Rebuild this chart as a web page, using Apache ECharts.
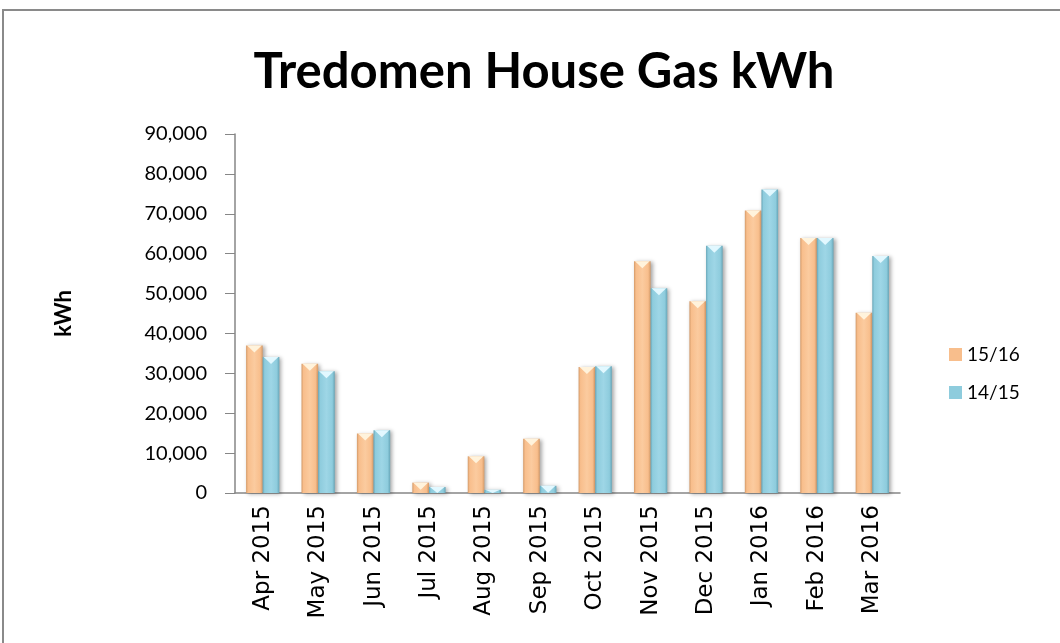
<!DOCTYPE html>
<html>
<head>
<meta charset="utf-8">
<script src="https://cdn.jsdelivr.net/npm/echarts@6/dist/echarts.min.js"></script>
<style>html,body{margin:0;padding:0;background:#fff;}#c{width:1060px;height:643px;}</style>
</head>
<body>
<div id="c"></div>
<script>
const categories = ['Apr 2015','May 2015','Jun 2015','Jul 2015','Aug 2015','Sep 2015','Oct 2015','Nov 2015','Dec 2015','Jan 2016','Feb 2016','Mar 2016'];
const seriesNames = ['15/16','14/15'];
const values1516 = [37000, 32400, 14900, 2600, 9200, 13600, 31600, 58100, 48100, 70800, 63900, 45200];
const values1415 = [34100, 30500, 15700, 1500, 800, 1800, 31800, 51300, 62000, 76100, 63900, 59400];
const yTicks = [0, 10000, 20000, 30000, 40000, 50000, 60000, 70000, 80000, 90000];

const palettes = [
  {base:'#F8BE8C', dark:'#D49A68', light:'#FBCB9F', tri:'#FFF3DC'},
  {base:'#8ECCDD', dark:'#67A6B8', light:'#9ED6E6', tri:'#E2F8FF'}
];
const FONT = 'Lato';

function makeRender(idx){
  const p = palettes[idx];
  return function(params, api){
    const cat = api.value(0), val = api.value(1);
    const base = api.coord([cat, 0]);
    const top = api.coord([cat, val]);
    const band = api.size([1, 0])[0];
    const bw = band * 0.30;
    const x = base[0] + (idx === 0 ? -bw : 0);
    const h = base[1] - top[1];
    const th = Math.min(7, h);
    const grad = new echarts.graphic.LinearGradient(0, 0, 1, 0, [
      {offset:0, color:p.dark},
      {offset:0.12, color:p.base},
      {offset:0.5, color:p.light},
      {offset:0.85, color:p.base},
      {offset:1, color:p.dark}
    ]);
    return {
      type:'group',
      children:[
        {type:'rect', shape:{x:x, y:top[1], width:bw, height:h},
         style:{fill:grad, shadowBlur:4, shadowOffsetX:2, shadowOffsetY:1, shadowColor:'rgba(0,0,0,0.35)'}},
        {type:'polygon', shape:{points:[[x+1, top[1]], [x+bw-1, top[1]], [x+bw/2, top[1]+th]]},
         style:{fill:p.tri}}
      ]
    };
  };
}

const chart = echarts.init(document.getElementById('c'), null, {renderer:'canvas'});
chart.setOption({
  animation:false,
  backgroundColor:'#ffffff',
  graphic:[{type:'rect', shape:{x:3, y:10, width:1200, height:800}, style:{fill:'none', stroke:'#8a8a8a', lineWidth:2}, silent:true}],
  title:{
    text:'Tredomen House Gas kWh',
    left:539, top:43, textAlign:'center',
    textStyle:{fontFamily:FONT, fontWeight:'bold', fontSize:49, color:'#000'}
  },
  legend:{
    orient:'vertical', left:944, top:340, itemWidth:13, itemHeight:13, itemGap:19,
    icon:'rect',
    data:seriesNames,
    textStyle:{fontFamily:FONT, fontSize:19, color:'#000'}
  },
  grid:{left:235, right:160, top:134, bottom:150},
  xAxis:{
    type:'category', data:categories,
    axisLine:{lineStyle:{color:'#868686', width:1.5}},
    axisTick:{show:false},
    axisLabel:{rotate:90, margin:12, fontFamily:'DejaVu Sans', fontSize:23, color:'#000'}
  },
  yAxis:{
    type:'value', min:0, max:90000, interval:10000,
    name:'kWh', nameLocation:'middle', nameGap:160, nameRotate:90,
    nameTextStyle:{fontFamily:FONT, fontWeight:'bold', fontSize:22, color:'#000'},
    axisLine:{show:true, lineStyle:{color:'#868686', width:1.5}},
    axisTick:{show:true, length:10, lineStyle:{color:'#868686'}},
    splitLine:{show:false},
    axisLabel:{margin:28, fontFamily:FONT, fontSize:20, color:'#000',
      formatter:function(v){return v.toLocaleString('en-US');}}
  },
  series:[
    {name:seriesNames[0], type:'custom', renderItem:makeRender(0), itemStyle:{color:palettes[0].base},
     encode:{x:0, y:1}, data:categories.map((c,i)=>[i, values1516[i]])},
    {name:seriesNames[1], type:'custom', renderItem:makeRender(1), itemStyle:{color:palettes[1].base},
     encode:{x:0, y:1}, data:categories.map((c,i)=>[i, values1415[i]])}
  ]
});
</script>
</body>
</html>
